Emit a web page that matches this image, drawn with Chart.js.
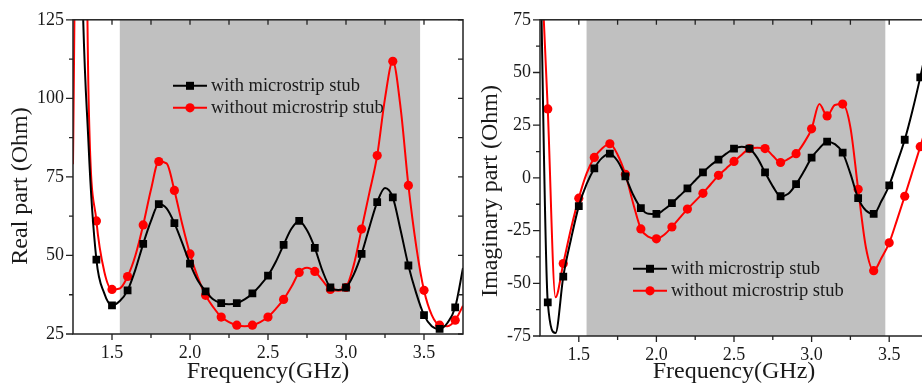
<!DOCTYPE html>
<html>
<head>
<meta charset="utf-8">
<script src="https://cdn.jsdelivr.net/npm/chart.js@4.4.0/dist/chart.umd.min.js"></script>
<style>
  html, body { margin: 0; padding: 0; background: #fff; overflow: hidden; }
  #wrap { position: relative; width: 922px; height: 387px; overflow: hidden; }
  .panel { position: absolute; top: 0; }
</style>
</head>
<body>
<div id="wrap">
  <canvas id="realChart" class="panel" width="470" height="387" style="left:0px"></canvas>
  <canvas id="imagChart" class="panel" width="470" height="387" style="left:466px"></canvas>
</div>
<script>
// Frequency grid (GHz), markers sit on every 0.1 GHz
const freqGHz = [
  1.25, 1.30, 1.35, 1.40, 1.45, 1.50, 1.55, 1.60, 1.65, 1.70,
  1.75, 1.80, 1.85, 1.90, 1.95, 2.00, 2.05, 2.10, 2.15, 2.20,
  2.25, 2.30, 2.35, 2.40, 2.45, 2.50, 2.55, 2.60, 2.65, 2.70,
  2.75, 2.80, 2.85, 2.90, 2.95, 3.00, 3.05, 3.10, 3.15, 3.20,
  3.25, 3.30, 3.35, 3.40, 3.45, 3.50, 3.55, 3.60, 3.65, 3.70,
  3.75
];

// Real part (Ohm)
const realWith = [
  400, 160, 85, 48.7, 38, 34.1, 35.5, 38.9, 45.5, 53.7,
  61, 66.3, 65, 60.3, 54, 47.4, 42, 38.6, 36, 34.8,
  34.5, 34.8, 36, 37.9, 40.5, 43.6, 48, 53.4, 58.5, 61,
  58, 52.4, 45, 39.8, 39, 39.8, 44, 50.5, 59, 67,
  71.5, 68.5, 58, 46.8, 38, 31, 27.5, 26.6, 28.5, 33.5,
  46
];
const realWithout = [
  79, 300, 100, 61, 45, 39.2, 39.5, 43.3, 50, 59.7,
  71, 79.9, 79.3, 70.7, 60, 50.5, 43, 37.3, 33.5, 30.4,
  28.8, 27.8, 27.5, 27.8, 28.8, 30.4, 33, 36, 40, 44.6,
  46.1, 44.9, 42, 39.2, 38.8, 39.8, 47, 58.4, 70, 81.8,
  100, 111.8, 97, 72.3, 53, 38.9, 31, 27.8, 27.5, 29.4,
  34
];

// Imaginary part (Ohm)
const imagWith = [
  115, -59, -73.6, -46.8, -29, -13.4, -3, 4.5, 9.5, 11.5,
  8, 0.7, -8, -14.3, -17, -17.1, -15, -12, -8.5, -5,
  -1.2, 2.6, 6, 8.7, 11.5, 13.9, 14.8, 13.9, 9.5, 2.6,
  -4, -8.7, -7.5, -3, 3, 9.6, 14, 17.2, 16, 12,
  2, -9.6, -15.5, -17.1, -11, -3.5, 7, 18.1, 32, 47.7,
  65
];
const imagWithout = [
  115, 32.7, -56.6, -40.6, -24, -9.6, 2, 9.7, 14, 16.2,
  11, 1.7, -12, -24.2, -28, -28.9, -27, -23.3, -19, -14.8,
  -11, -7.3, -3, 1.2, 4.5, 7.8, 11, 13.9, 14.3, 13.9,
  10.5, 7.3, 9, 11.5, 16.5, 23.3, 35, 29.4, 34.6, 35,
  24, -5.4, -33, -44, -38, -30.8, -20, -8.7, 3, 14.8,
  27
];

// Axes
const freqRange = [1.25, 3.75];
const freqTicks = [1.5, 2.0, 2.5, 3.0, 3.5];
const realRange = [25, 125];
const realTicks = [25, 50, 75, 100, 125];
const imagRange = [-75, 75];
const imagTicks = [-75, -50, -25, 0, 25, 50, 75];
const shadeBand = [1.55, 3.475];

const SERIF = '"Liberation Serif", "Times New Roman", serif';
const TEXT = '#1a1a1a';

// marker only on multiples of 0.1 GHz
function onMarker(i) {
  const f = freqGHz[i] * 10;
  return Math.abs(f - Math.round(f)) < 1e-6;
}

function toPoints(values) {
  return freqGHz.map((f, i) => ({ x: f, y: values[i] }));
}

function makeDatasets(withVals, withoutVals) {
  return [
    {
      label: 'with microstrip stub',
      data: toPoints(withVals),
      borderColor: '#000000',
      backgroundColor: '#000000',
      borderWidth: 2,
      pointStyle: 'rect',
      pointRadius: ctx => onMarker(ctx.dataIndex) ? 5.5 : 0,
      pointBorderWidth: 0
    },
    {
      label: 'without microstrip stub',
      data: toPoints(withoutVals),
      borderColor: '#ff0000',
      backgroundColor: '#ff0000',
      borderWidth: 2,
      pointStyle: 'circle',
      pointRadius: ctx => onMarker(ctx.dataIndex) ? 4.6 : 0,
      pointBorderWidth: 0
    }
  ];
}

function midpoints(arr) {
  const out = [];
  for (let i = 0; i < arr.length - 1; i++) out.push((arr[i] + arr[i + 1]) / 2);
  return out;
}

// shaded band, box frame with ticks, y title, legend
const framePlugin = {
  id: 'frame',
  beforeDatasetsDraw(chart) {
    const { ctx, chartArea: ca, scales: { x } } = chart;
    const x0 = Math.max(ca.left, x.getPixelForValue(shadeBand[0]));
    const x1 = Math.min(ca.right, x.getPixelForValue(shadeBand[1]));
    ctx.save();
    ctx.fillStyle = '#c0c0c0';
    ctx.fillRect(x0, ca.top, x1 - x0, ca.bottom - ca.top);
    ctx.restore();
  },
  afterDatasetsDraw(chart, args, opts) {
    const { ctx, chartArea: ca, scales: { x, y } } = chart;
    ctx.save();
    ctx.strokeStyle = '#222';
    ctx.lineWidth = 1.5;
    ctx.strokeRect(ca.left, ca.top, ca.right - ca.left, ca.bottom - ca.top);

    ctx.lineWidth = 1.3;
    ctx.beginPath();
    const xMinor = midpoints(freqTicks);
    freqTicks.concat(xMinor).forEach(v => {
      const px = x.getPixelForValue(v);
      if (px < ca.left || px > ca.right) return;
      const len = freqTicks.includes(v) ? 6 : 4;
      ctx.moveTo(px, ca.bottom); ctx.lineTo(px, ca.bottom + len);
      ctx.moveTo(px, ca.top); ctx.lineTo(px, ca.top + 5);
    });
    const yTicks = opts.yTicks;
    yTicks.concat(midpoints(yTicks)).forEach(v => {
      const py = y.getPixelForValue(v);
      const len = yTicks.includes(v) ? 7 : 4;
      ctx.moveTo(ca.left, py); ctx.lineTo(ca.left - len, py);
      ctx.moveTo(ca.right, py); ctx.lineTo(ca.right - 5, py);
    });
    ctx.stroke();

    // y axis title
    ctx.save();
    ctx.translate(opts.titleX, opts.titleY);
    ctx.rotate(-Math.PI / 2);
    ctx.font = '24px ' + SERIF;
    ctx.fillStyle = TEXT;
    ctx.textAlign = 'center';
    ctx.textBaseline = 'middle';
    ctx.fillText(opts.yTitle, 0, 0);
    ctx.restore();

    // legend
    const lx = ca.left + opts.legendX;
    let ly = ca.top + opts.legendY;
    ctx.font = '18.5px ' + SERIF;
    ctx.textBaseline = 'middle';
    chart.data.datasets.forEach(ds => {
      ctx.strokeStyle = ds.borderColor;
      ctx.lineWidth = 2;
      ctx.beginPath();
      ctx.moveTo(lx, ly); ctx.lineTo(lx + 34, ly);
      ctx.stroke();
      ctx.fillStyle = ds.backgroundColor;
      if (ds.pointStyle === 'rect') {
        ctx.fillRect(lx + 17 - 4, ly - 4, 8, 8);
      } else {
        ctx.beginPath();
        ctx.arc(lx + 17, ly, 4.6, 0, Math.PI * 2);
        ctx.fill();
      }
      ctx.fillStyle = TEXT;
      ctx.fillText(ds.label, lx + 38, ly);
      ly += 22;
    });
    ctx.restore();
  }
};

function makeChart(id, withVals, withoutVals, yRange, yTicks, yTitle, opts) {
  return new Chart(document.getElementById(id), {
    type: 'line',
    data: { datasets: makeDatasets(withVals, withoutVals) },
    options: {
      responsive: false,
      animation: false,
      devicePixelRatio: 1,
      layout: { padding: { top: 17, right: opts.padRight, left: 0, bottom: 0 } },
      elements: {
        line: { cubicInterpolationMode: 'monotone', capBezierPoints: false }
      },
      plugins: {
        legend: { display: false },
        tooltip: { enabled: false },
        frame: {
          yTicks: yTicks, yTitle: yTitle,
          titleX: opts.titleX, titleY: opts.titleY,
          legendX: opts.legendX, legendY: opts.legendY
        }
      },
      scales: {
        x: {
          type: 'linear',
          min: freqRange[0],
          max: freqRange[1],
          afterBuildTicks: s => { s.ticks = freqTicks.map(v => ({ value: v })); },
          afterFit: s => { s.height = opts.xHeight; },
          grid: { display: false, drawTicks: false },
          border: { display: false },
          ticks: {
            color: TEXT,
            padding: 8,
            maxRotation: 0,
            font: { family: SERIF, size: 18 },
            callback: v => Number(v).toFixed(1)
          },
          title: {
            display: true,
            text: 'Frequency(GHz)',
            color: TEXT,
            font: { family: SERIF, size: 24 },
            padding: { top: 0, bottom: 1 }
          }
        },
        y: {
          min: yRange[0],
          max: yRange[1],
          afterBuildTicks: s => { s.ticks = yTicks.map(v => ({ value: v })); },
          afterFit: s => { s.width = opts.yWidth; },
          grid: { display: false, drawTicks: false },
          border: { display: false },
          ticks: {
            color: TEXT,
            padding: 9,
            font: { family: SERIF, size: 18 }
          },
          title: { display: false }
        }
      }
    },
    plugins: [framePlugin]
  });
}

makeChart('realChart', realWith, realWithout, realRange, realTicks, 'Real part (Ohm)',
  { padRight: 7, xHeight: 53, yWidth: 73, legendX: 100, legendY: 66, titleX: 21, titleY: 186 });
makeChart('imagChart', imagWith, imagWithout, imagRange, imagTicks, 'Imaginary part (Ohm)',
  { padRight: 8, xHeight: 51, yWidth: 74, legendX: 93, legendY: 249, titleX: 25, titleY: 191 });
</script>
</body>
</html>
